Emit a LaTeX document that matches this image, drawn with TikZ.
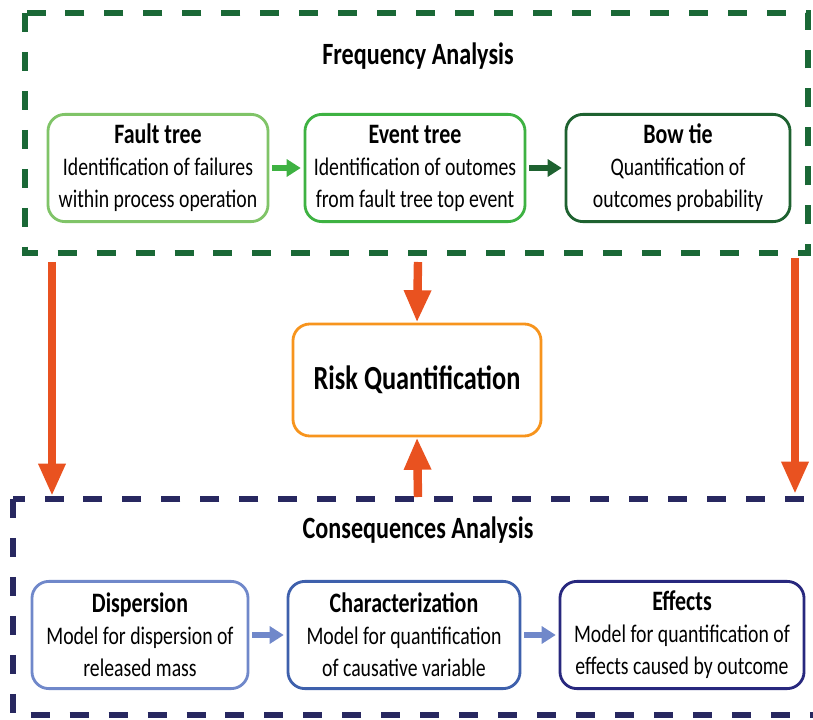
\documentclass[tikz,border=0pt]{standalone}
\usepackage{fontspec}
\setmainfont{Carlito}[FakeStretch=0.78]
\usetikzlibrary{arrows.meta}
\definecolor{frgreen}{RGB}{26,104,54}
\definecolor{ftgreen}{RGB}{128,196,104}
\definecolor{etgreen}{RGB}{62,178,66}
\definecolor{btgreen}{RGB}{30,98,48}
\definecolor{riskorange}{RGB}{247,148,29}
\definecolor{arrorange}{RGB}{233,82,32}
\definecolor{canavy}{RGB}{40,40,96}
\definecolor{dpblue}{RGB}{112,136,202}
\definecolor{chblue}{RGB}{62,96,172}
\definecolor{efblue}{RGB}{40,40,126}
\newcommand{\boxhead}[1]{{\fontsize{20}{22.6}\selectfont\bfseries #1}}

\begin{document}
\begin{tikzpicture}[x=0.025cm,y=-0.025cm]
  \tikzstyle{box}=[draw,rounded corners=12pt,line width=2pt,fill=white,
    minimum width=5.5cm,minimum height=2.68cm,align=center,inner sep=1pt,
    font=\fontsize{18}{22.8}\selectfont]
  \tikzstyle{title}=[font=\fontsize{22}{24}\selectfont\bfseries]
  \tikzstyle{frame}=[line width=4pt,dash pattern=on 13.5pt off 14.2pt]
  \tikzstyle{bigarrow}=[line width=6pt,arrorange,-{Triangle[length=23pt,width=18pt]}]
  \tikzstyle{smallarrow}=[line width=4.5pt,-{Triangle[length=10pt,width=12pt]},shorten >=2pt,shorten <=2pt]
  \useasboundingbox (0,0) rectangle (813,720);

  % frequency analysis
  \coordinate (fr1) at (25,13);
  \coordinate (fr2) at (808,253);
  \draw[frame,frgreen] (fr1) rectangle (fr2);
  \node[title] (freq) at (418,56) {Frequency Analysis};
  \node[box,draw=ftgreen] (fault) at (158,168)
    {\boxhead{Fault tree}\\Identification of failures\\within process operation};
  \node[box,draw=etgreen] (event) at (415,168)
    {\boxhead{Event tree}\\Identification of outomes\\from fault tree top event};
  \node[box,draw=btgreen,minimum width=5.6cm] (bowtie) at (678,168)
    {\boxhead{Bow tie}\\Quantification of\\outcomes probability};
  \draw[smallarrow,etgreen] (fault) -- (event);
  \draw[smallarrow,btgreen] (event) -- (bowtie);

  % risk
  \node[box,draw=riskorange,minimum width=6.2cm,minimum height=2.8cm,
    font=\fontsize{24}{26}\selectfont\bfseries] (risk) at (417,380) {Risk Quantification};

  % consequences analysis
  \coordinate (ca1) at (13,499);
  \coordinate (ca2) at (835,715);
  \draw[frame,canavy] (ca1) rectangle (ca2);
  \node[title] (conseq) at (418,530) {Consequences Analysis};
  \node[box,draw=dpblue,minimum width=5.4cm] (disp) at (140,635)
    {\boxhead{Dispersion}\\Model for dispersion of\\released mass};
  \node[box,draw=chblue,minimum width=5.8cm] (charac) at (404,635)
    {\boxhead{Characterization}\\Model for quantification\\of causative variable};
  \node[box,draw=efblue,minimum width=6.1cm] (effects) at (682,635)
    {\boxhead{Effects}\\Model for quantification of\\effects caused by outcome};
  \draw[smallarrow,dpblue] (disp) -- (charac);
  \draw[smallarrow,dpblue] (charac) -- (effects);

  % links
  \coordinate (lstart) at (52,262);
  \coordinate (lend) at (52,496);
  \coordinate (rstart) at (795,258);
  \coordinate (rend) at (795,494);
  \coordinate (mstart) at (418,262);
  \coordinate (bstart) at (418,497);
  \draw[bigarrow] (lstart) -- (lend);
  \draw[bigarrow] (rstart) -- (rend);
  \draw[bigarrow] (mstart) -- (risk.north);
  \draw[bigarrow] (bstart) -- (risk.south);
\end{tikzpicture}
\end{document}
